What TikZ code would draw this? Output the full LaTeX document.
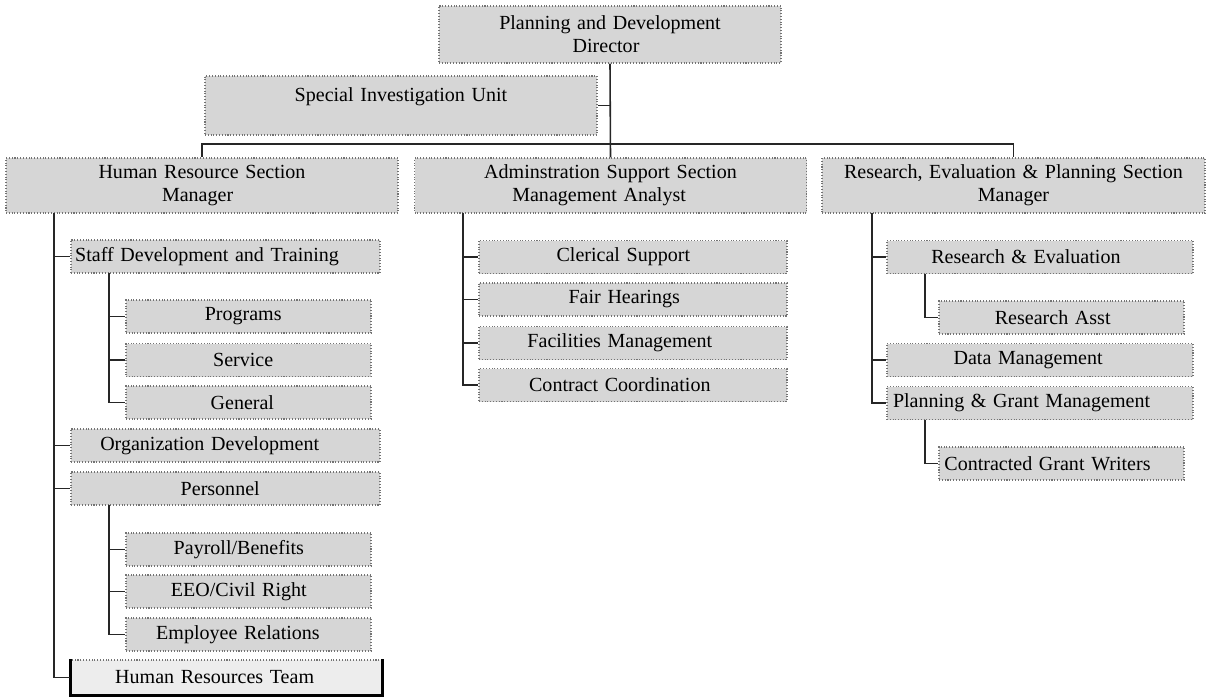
\documentclass[tikz,border=0pt]{standalone}
\usepackage{fontspec}
\setmainfont{Liberation Serif}
\usepackage{tikz}
\usetikzlibrary{calc}

% trailing room, so the text sits a little left of the box centre
\newlength\tailskip
\newcommand{\pad}[1]{\hspace*{#1}}

\tikzset{
  gap/.code={\setlength\tailskip{#1}},
  unit/.style={draw=black!55, densely dotted, line width=0.6pt, fill=black!16,
    inner xsep=0pt, inner ysep=1pt, align=center, font=\fontsize{11.4}{13}\selectfont,
    gap=13pt, execute at end node={\pad{\tailskip}}},
  wide/.style={unit, text width=78.4mm, minimum height=11mm},
  mid/.style={unit, text width=61.8mm, minimum height=6.6mm},
  small/.style={unit, text width=49mm, minimum height=6.6mm},
  link/.style={draw=black!85, line width=0.9pt}
}

\begin{document}
\begin{tikzpicture}[x=0.2mm, y=-0.2mm]
\useasboundingbox (0,0) rectangle (1211,696);

% Top level
\node[wide, text width=68.4mm, minimum height=11.4mm, gap=4.5pt] (dir) at (610,34.5) {Planning and Development\pad{15pt}\\Director};
\node[wide, minimum height=11.8mm, gap=0pt] (siu) at (401,105.5) {Special Investigation Unit\pad{17pt}\\~};

% Sections
\node[wide, gap=5pt] (hr)  at (202,185.5)  {Human Resource Section\pad{15pt}\\Manager};
\node[wide] (adm) at (610.5,185.5) {Adminstration Support Section\pad{20pt}\\Management Analyst};
\node[wide, text width=76.6mm, gap=0pt] (rep) at (1013.5,185.5) {Research, Evaluation \& Planning Section\pad{25pt}\\Manager};

% Human resource column
\node[mid, gap=21pt] (sdt) at (225.5,256.5) {Staff Development and Training};
\node[small, gap=6pt] (prog) at (248.5,316.5) {Programs};
\node[small, gap=6pt] (serv) at (248.5,360)   {Service};
\node[small, gap=7pt] (gen)  at (248.5,402.5) {General};
\node[mid, gap=18pt] (odv)  at (225.5,445.5) {Organization Development};
\node[mid, gap=6pt]  (pers) at (225.5,488.5) {Personnel};
\node[small, gap=11pt] (pay) at (248.5,549.5) {Payroll/Benefits};
\node[small, gap=11pt] (eeo) at (248.5,591.5) {EEO/Civil Right};
\node[small, gap=12pt] (emp) at (248.5,634.5) {Employee Relations};
\node[mid, fill=black!7, text width=62.2mm, minimum height=7mm, gap=13.5pt] (hrt) at (226.5,677.5) {Human Resources Team};
\draw[line width=1.3pt] (hrt.north west) -- (hrt.south west) -- (hrt.south east) -- (hrt.north east);

% Administration column
\node[mid, text width=61.6mm, gap=11pt] (cler) at (633,257)   {Clerical Support};
\node[mid, text width=61.6mm, gap=10pt] (fair) at (633,299.5) {Fair Hearings};
\node[mid, text width=61.6mm, gap=15pt] (fac)  at (633,343)   {Facilities Management};
\node[mid, text width=61.6mm, gap=15pt] (con)  at (633,385)   {Contract Coordination};

% Research column
\node[mid, text width=61.2mm, gap=16pt] (rev) at (1040,257) {Research \& Evaluation};
\node[small, gap=10pt] (ra)  at (1061.5,317.5) {Research Asst};
\node[mid, text width=61.2mm, gap=13.5pt] (dm)  at (1040,360) {Data Management};
\node[mid, text width=61.2mm, gap=21pt] (pgm) at (1040,403) {Planning \& Grant Management};
\node[small, gap=16pt] (cgw) at (1061.5,463.5) {Contracted Grant Writers};

% Top connectors
\coordinate (topbus) at (610,144);
\draw[link] (dir.south) -- (adm.north);
\draw[link] (siu.east) -- (siu.east -| dir.south);
\draw[link] (hr.north) -- (hr.north |- topbus) -- (rep.north |- topbus) -- (rep.north);

% Human resource links
\coordinate (hrbus) at (54,213);
\draw[link] (hrbus) |- (hrt.west);
\foreach \n in {sdt,odv,pers}
  \draw[link] (hrbus |- \n.west) -- (\n.west);
\coordinate (sdtbus) at (109,273);
\draw[link] (sdtbus) |- (gen.west);
\foreach \n in {prog,serv}
  \draw[link] (sdtbus |- \n.west) -- (\n.west);
\coordinate (persbus) at (109,505);
\draw[link] (persbus) |- (emp.west);
\foreach \n in {pay,eeo}
  \draw[link] (persbus |- \n.west) -- (\n.west);

% Administration links
\coordinate (admbus) at (463,213);
\draw[link] (admbus) |- (con.west);
\foreach \n in {cler,fair,fac}
  \draw[link] (admbus |- \n.west) -- (\n.west);

% Research links
\coordinate (repbus) at (872,213);
\draw[link] (repbus) |- (pgm.west);
\foreach \n in {rev,dm}
  \draw[link] (repbus |- \n.west) -- (\n.west);
\coordinate (revbus) at (925,273.5);
\draw[link] (revbus) |- (ra.west);
\coordinate (pgmbus) at (925,419.5);
\draw[link] (pgmbus) |- (cgw.west);
\end{tikzpicture}
\end{document}
